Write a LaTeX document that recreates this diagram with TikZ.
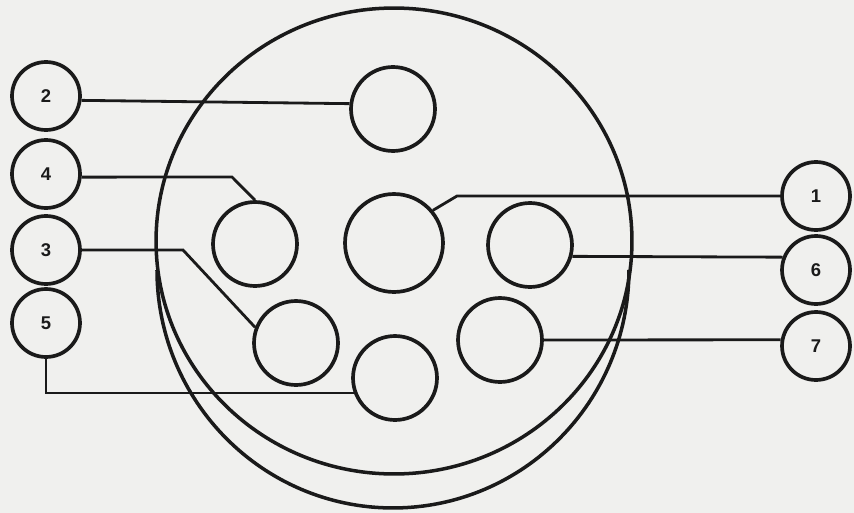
\documentclass[tikz,border=0pt]{standalone}
\usepackage{fontspec}
\setsansfont{Liberation Sans}
\usepackage{tikz}
\definecolor{cnInk}{HTML}{1A1A1A}
\definecolor{cnPaper}{HTML}{F0F0EE}
\tikzset{
  cnbody/.style={draw=cnInk, line width=2pt},
  cnpin/.style={
    circle, draw=cnInk, line width=2.1pt,
    minimum size=1.68cm, inner sep=0pt
  },
  cnnum/.style={
    circle, draw=cnInk, line width=2.1pt,
    minimum size=1.36cm, inner sep=0pt,
    font=\sffamily\bfseries\fontsize{10.5}{12}\selectfont, text=cnInk
  },
  cnlink/.style={draw=cnInk, line width=1.6pt}
}
\begin{document}
\begin{tikzpicture}[x=0.02cm, y=-0.02cm]

% Fondo
\fill[cnPaper] (0,0) rectangle (854,513);
\useasboundingbox (0,0) rectangle (854,513);

% Cuerpo del conector
\draw[cnbody] (394,241) ellipse [x radius=4.76cm, y radius=4.66cm];
\draw[cnbody] (157,270) arc [start angle=180, end angle=360, x radius=4.72cm, y radius=4.76cm];

% Contactos
\node[cnpin] (pin2) at (393,109) {};
\node[cnpin, minimum size=1.96cm] (pin1) at (394,243) {};
\node[cnpin] (pin4) at (255,244) {};
\node[cnpin] (pin6) at (530,245) {};
\node[cnpin] (pin3) at (296,343) {};
\node[cnpin] (pin5) at (395,378) {};
\node[cnpin] (pin7) at (500,340) {};

% Numeros
\node[cnnum] (num2) at (46,96) {2};
\node[cnnum] (num4) at (46,174) {4};
\node[cnnum] (num3) at (46,250) {3};
\node[cnnum] (num5) at (46,323) {5};
\node[cnnum] (num1) at (816,196) {1};
\node[cnnum] (num6) at (816,270) {6};
\node[cnnum] (num7) at (816,346) {7};

% Enlaces numero -> contacto
\draw[cnlink] (num2.-7) -- (pin2.173);
\draw[cnlink] (num4.-5) -- (232,177) -- (pin4.north);
\draw[cnlink] (num3.east) -- (183,250) -- (pin3.159);
\draw[cnlink] (num5.south) |- (pin5.200);
\draw[cnlink] (num1.west) -- (457,196) -- (pin1.40);
\draw[cnlink] (num6.159) -- (pin6.-15);
\draw[cnlink] (num7.170) -- (pin7.east);

\end{tikzpicture}
\end{document}
